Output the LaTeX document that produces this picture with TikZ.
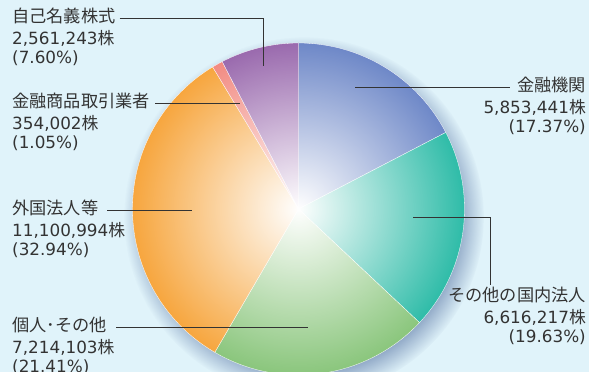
\documentclass[tikz,border=0pt]{standalone}
\usepackage{fontspec}
\setmainfont{DejaVu Sans}
\newfontfamily\jpfont{Noto Sans CJK JP}
\usepackage{xcolor}
\usepackage{tikz}
\usetikzlibrary{positioning,fadings}
\definecolor{bg}{HTML}{E0F3FA}
\definecolor{ink}{HTML}{333333}
\definecolor{shad}{HTML}{4A679A}
\definecolor{cfin}{HTML}{6E88C8}
\definecolor{cdom}{HTML}{2EBCA8}
\definecolor{cind}{HTML}{8AC67C}
\definecolor{cfor}{HTML}{F7A63E}
\definecolor{csec}{HTML}{F28B82}
\definecolor{cown}{HTML}{9A6AAE}
\newcommand{\kabu}{{\jpfont 株}}
\tikzfading[name=glow, inner color=transparent!0, outer color=transparent!100]
\tikzset{
  slice/.style={draw=white, line width=0.3pt},
  lead/.style={draw=ink, line width=0.9pt},
  lab/.style={text=ink, font=\jpfont\fontsize{17.2}{20}\selectfont, inner sep=0pt, text height=12pt, text depth=3pt},
  val/.style={text=ink, font=\fontsize{16.8}{19.6}\selectfont, inner sep=0pt}
}
\begin{document}
\begin{tikzpicture}[x=1pt, y=1pt]
  \def\r{166}
  \useasboundingbox (0,0) rectangle (589,372);
  \fill[bg] (0,0) rectangle (589,372);
  \coordinate (O) at (298.5,163);
  \coordinate (S) at (304,155);
  % shadow and slices
  \fill[shad, opacity=0.75, path fading=circle with fuzzy edge 20 percent] (S) circle (180);
  \fill[slice, fill=cfin] (O) -- ++(90:\r) arc[start angle=90, end angle=27.47, radius=\r] -- cycle;
  \fill[slice, fill=cdom] (O) -- ++(27.47:\r) arc[start angle=27.47, end angle=-43.20, radius=\r] -- cycle;
  \fill[slice, fill=cind] (O) -- ++(-43.20:\r) arc[start angle=-43.20, end angle=-120.28, radius=\r] -- cycle;
  \fill[slice, fill=cfor] (O) -- ++(-120.28:\r) arc[start angle=-120.28, end angle=-238.86, radius=\r] -- cycle;
  \fill[slice, fill=csec] (O) -- ++(-238.86:\r) arc[start angle=-238.86, end angle=-242.64, radius=\r] -- cycle;
  \fill[slice, fill=cown] (O) -- ++(-242.64:\r) arc[start angle=-242.64, end angle=-270, radius=\r] -- cycle;
  \fill[white, path fading=glow] (O) circle (\r);
  % labels
  \node[lab, anchor=west] (own) at (12,354) {自己名義株式};
  \node[val, align=left, below right=4pt and 0pt of own.south west] (ownv) {2,561,243\kabu\\(7.60\%)};
  \node[lab, anchor=west] (sec) at (12,269) {金融商品取引業者};
  \node[val, align=left, below right=4pt and 0pt of sec.south west] (secv) {354,002\kabu\\(1.05\%)};
  \node[lab, anchor=east] (fin) at (586,285) {金融機関};
  \node[val, align=right, below left=4pt and 0pt of fin.south east] (finv) {5,853,441\kabu\\(17.37\%)};
  \node[lab, anchor=east] (dom) at (586,75) {その他の国内法人};
  \node[val, align=right, below left=4pt and 0pt of dom.south east] (domv) {6,616,217\kabu\\(19.63\%)};
  \node[lab, anchor=west] (for) at (12,162) {外国法人等};
  \node[val, align=left, below right=4pt and 0pt of for.south west] (forv) {11,100,994\kabu\\(32.94\%)};
  \node[lab, anchor=west] (ind) at (12,45) {個人･その他};
  \node[val, align=left, below right=4pt and 0pt of ind.south west] (indv) {7,214,103\kabu\\(21.41\%)};
  % leader lines
  \coordinate (ownp) at (263,306);
  \coordinate (secp) at (240,269);
  \coordinate (finp) at (355,285);
  \coordinate (domp) at (413,155);
  \coordinate (domk) at (490,155);
  \coordinate (forp) at (192,162);
  \coordinate (indp) at (308,45);
  \draw[lead] ([xshift=4pt]own.east) -| (ownp);
  \draw[lead] ([xshift=5pt]sec.east) -- (secp);
  \draw[lead] ([xshift=-7pt]fin.west) -- (finp);
  \draw[lead] (domp) -- (domk) -- ([yshift=4pt]domk |- dom.north);
  \draw[lead] ([xshift=9pt]for.east) -- (forp);
  \draw[lead] ([xshift=9pt]ind.east) -- (indp);
\end{tikzpicture}
\end{document}
